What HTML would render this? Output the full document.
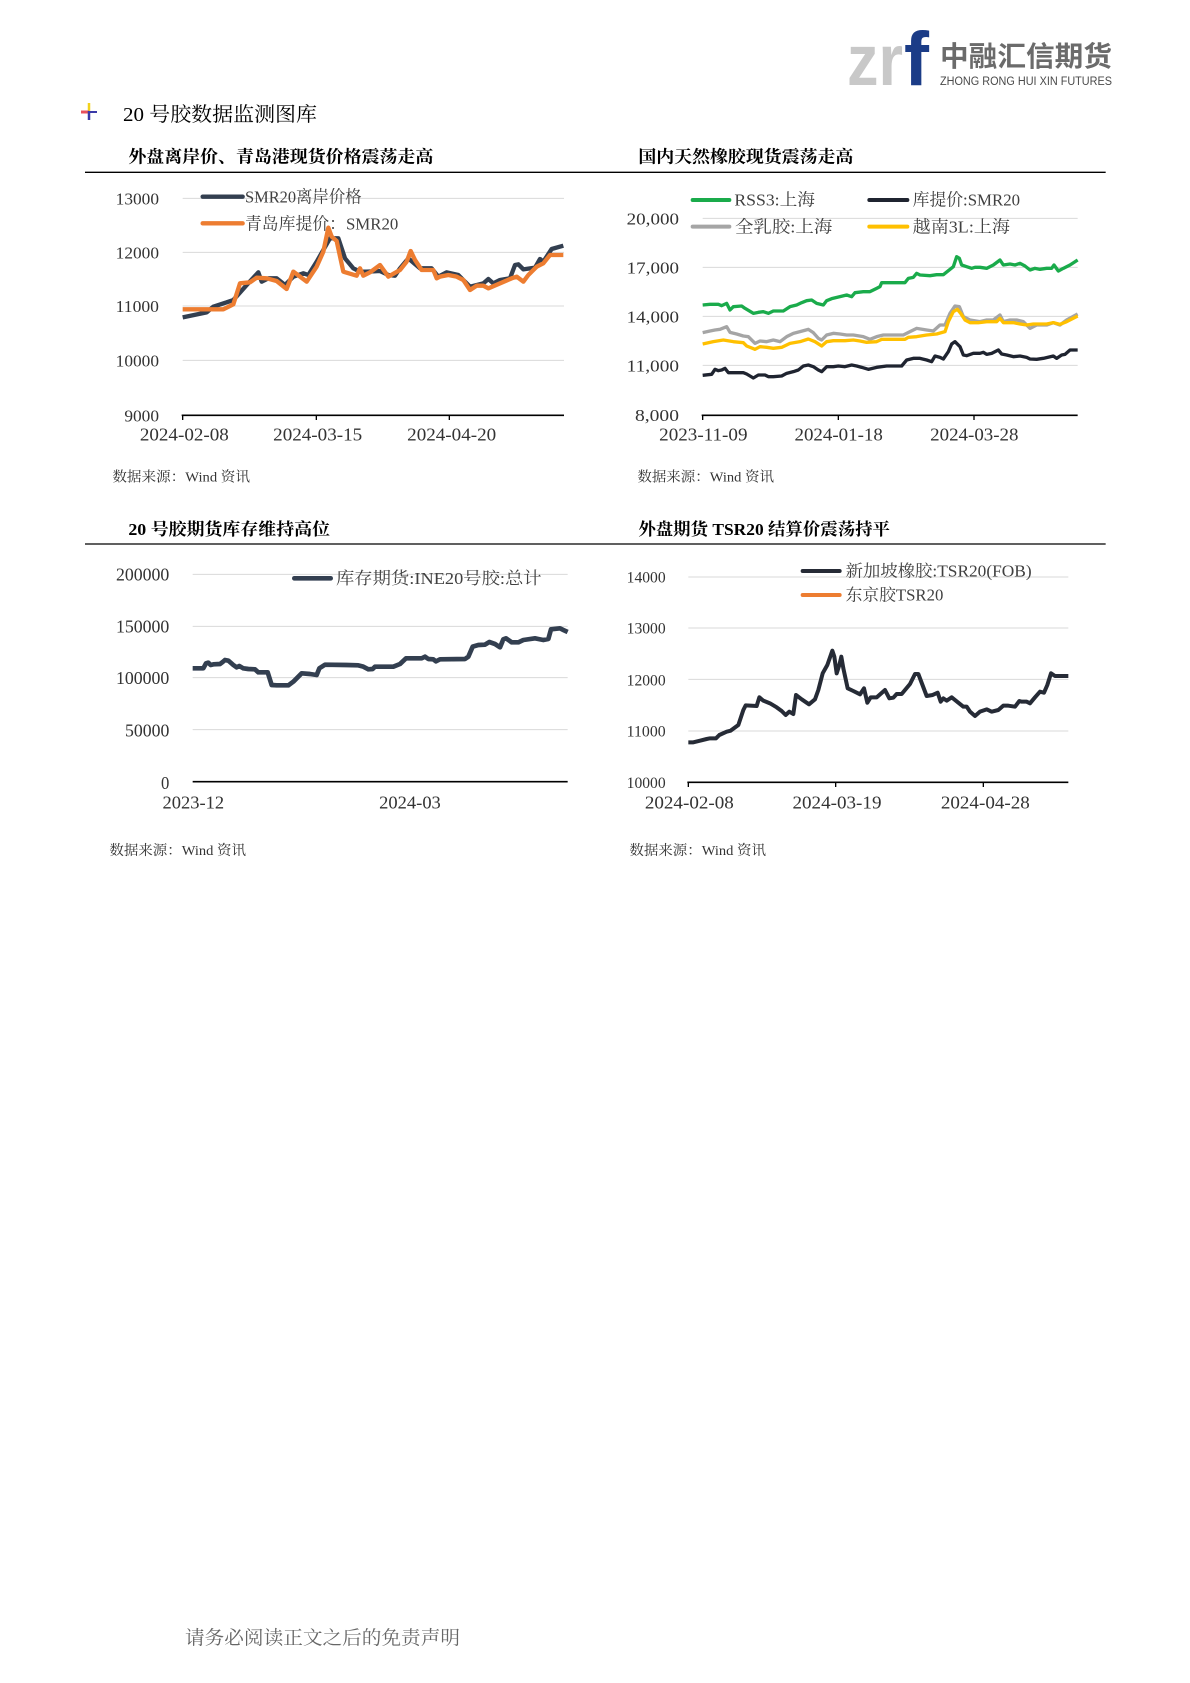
<!DOCTYPE html>
<html>
<head>
<meta charset="utf-8">
<style>
html,body{margin:0;padding:0;background:#fff;}
body{width:1190px;height:1683px;overflow:hidden;}
svg{display:block;}
.serif{font-family:"Liberation Serif","Noto Serif CJK SC",serif;}
.sans{font-family:"Liberation Sans","Noto Sans CJK SC",sans-serif;}
</style>
</head>
<body>
<svg width="1190" height="1683" viewBox="0 0 1190 1683" xmlns="http://www.w3.org/2000/svg">
<rect width="1190" height="1683" fill="#fff"/>

<!-- Logo -->
<g>
  <text x="847" y="85" class="sans" font-weight="bold" font-size="72" fill="#C8C8C8" textLength="56" lengthAdjust="spacingAndGlyphs">zr</text>
  <text x="904" y="85" class="sans" font-weight="bold" font-size="76" fill="#1B3C87" textLength="25" lengthAdjust="spacingAndGlyphs">f</text>
  <text x="940" y="66" class="sans" font-weight="bold" font-size="28" fill="#6B6B6B" textLength="172" lengthAdjust="spacingAndGlyphs">中融汇信期货</text>
  <text x="940" y="85" class="sans" font-size="11.5" fill="#4a4a4a" textLength="172" lengthAdjust="spacingAndGlyphs">ZHONG RONG HUI XIN FUTURES</text>
</g>

<!-- Section title -->
<g>
  <line x1="89" y1="103" x2="89" y2="111" stroke="#F2D21B" stroke-width="2.5"/>
  <line x1="81" y1="112" x2="89" y2="112" stroke="#E8505B" stroke-width="3"/>
  <line x1="89" y1="112" x2="97" y2="112" stroke="#3A3AA8" stroke-width="2"/>
  <line x1="89" y1="111" x2="89" y2="120" stroke="#3A3AA8" stroke-width="2.5"/>
  <text x="123" y="121" class="serif" font-size="20" fill="#000" textLength="194" lengthAdjust="spacingAndGlyphs">20 号胶数据监测图库</text>
</g>

<!-- Chart 1 -->
<g transform="translate(80,140) scale(0.333333)" class="serif">
  <text x="145" y="67" font-size="51" font-weight="bold" fill="#000" textLength="915" lengthAdjust="spacingAndGlyphs">外盘离岸价、青岛港现货价格震荡走高</text>
  <line x1="15" y1="97" x2="1560" y2="97" stroke="#000" stroke-width="4"/>
  <g stroke="#D9D9D9" stroke-width="3">
    <line x1="308" y1="175" x2="1452" y2="175"/>
    <line x1="308" y1="337" x2="1452" y2="337"/>
    <line x1="308" y1="498" x2="1452" y2="498"/>
    <line x1="308" y1="661" x2="1452" y2="661"/>
  </g>
  <line x1="305" y1="826" x2="1452" y2="826" stroke="#000" stroke-width="5"/>
  <g stroke="#000" stroke-width="4">
    <line x1="308" y1="826" x2="308" y2="840"/>
    <line x1="709" y1="826" x2="709" y2="840"/>
    <line x1="1108" y1="826" x2="1108" y2="840"/>
  </g>
  <g font-size="52" fill="#333" text-anchor="end">
    <text x="237" y="193" textLength="130" lengthAdjust="spacingAndGlyphs">13000</text>
    <text x="237" y="355" textLength="130" lengthAdjust="spacingAndGlyphs">12000</text>
    <text x="237" y="516" textLength="130" lengthAdjust="spacingAndGlyphs">11000</text>
    <text x="237" y="679" textLength="130" lengthAdjust="spacingAndGlyphs">10000</text>
    <text x="237" y="844" textLength="104" lengthAdjust="spacingAndGlyphs">9000</text>
  </g>
  <g font-size="53" fill="#333" text-anchor="middle">
    <text x="313" y="902" textLength="267" lengthAdjust="spacingAndGlyphs">2024-02-08</text>
    <text x="713" y="902" textLength="267" lengthAdjust="spacingAndGlyphs">2024-03-15</text>
    <text x="1115" y="902" textLength="267" lengthAdjust="spacingAndGlyphs">2024-04-20</text>
  </g>
  <line x1="368" y1="170" x2="488" y2="170" stroke="#333F50" stroke-width="13" stroke-linecap="round"/>
  <text x="495" y="187" font-size="51" fill="#404040" textLength="350" lengthAdjust="spacingAndGlyphs">SMR20离岸价格</text>
  <line x1="368" y1="250" x2="488" y2="250" stroke="#ED7D31" stroke-width="13" stroke-linecap="round"/>
  <text x="495" y="268" font-size="51" fill="#404040" textLength="460" lengthAdjust="spacingAndGlyphs">青岛库提价：SMR20</text>
  <polyline fill="none" stroke="#333F50" stroke-width="13" stroke-linejoin="round" points="308,532 380,517 400,500 440,487 460,480 500,435 535,397 545,425 565,415 590,415 615,435 640,410 670,400 685,405 710,365 750,295 775,295 795,355 820,385 840,395 860,395 900,393 925,405 945,407 960,385 985,355 1020,385 1055,385 1075,410 1100,397 1135,405 1150,420 1170,440 1210,430 1225,417 1240,430 1260,420 1290,415 1305,375 1315,373 1330,388 1365,383 1380,357 1390,365 1415,327 1450,317"/>
  <polyline fill="none" stroke="#ED7D31" stroke-width="13" stroke-linejoin="round" points="308,508 430,508 460,493 480,430 510,427 530,413 560,415 590,423 620,447 640,395 660,410 680,425 710,380 730,335 745,263 755,290 770,303 790,395 830,407 840,385 850,407 870,397 900,375 925,410 960,390 980,365 992,333 1005,360 1025,390 1060,390 1070,415 1080,410 1105,405 1130,410 1150,420 1170,450 1190,437 1210,437 1225,445 1260,430 1295,415 1310,410 1330,425 1345,405 1370,380 1390,370 1410,345 1450,345"/>
  <text x="97" y="1025" font-size="42" fill="#333" textLength="413" lengthAdjust="spacingAndGlyphs">数据来源：Wind 资讯</text>
</g>

<!-- Chart 2 -->
<g transform="translate(600,140) scale(0.333333)" class="serif">
  <text x="115" y="67" font-size="51" font-weight="bold" fill="#000" textLength="645" lengthAdjust="spacingAndGlyphs">国内天然橡胶现货震荡走高</text>
  <line x1="0" y1="97" x2="1517" y2="97" stroke="#000" stroke-width="4"/>
  <g stroke="#D9D9D9" stroke-width="3">
    <line x1="308" y1="235" x2="1433" y2="235"/>
    <line x1="308" y1="382" x2="1433" y2="382"/>
    <line x1="308" y1="529" x2="1433" y2="529"/>
    <line x1="308" y1="676" x2="1433" y2="676"/>
  </g>
  <line x1="305" y1="826" x2="1433" y2="826" stroke="#000" stroke-width="5"/>
  <g stroke="#000" stroke-width="4">
    <line x1="308" y1="826" x2="308" y2="840"/>
    <line x1="715" y1="826" x2="715" y2="840"/>
    <line x1="1122" y1="826" x2="1122" y2="840"/>
  </g>
  <g font-size="52" fill="#333" text-anchor="end">
    <text x="237" y="254" textLength="157" lengthAdjust="spacingAndGlyphs">20,000</text>
    <text x="237" y="400" textLength="157" lengthAdjust="spacingAndGlyphs">17,000</text>
    <text x="237" y="547" textLength="157" lengthAdjust="spacingAndGlyphs">14,000</text>
    <text x="237" y="695" textLength="157" lengthAdjust="spacingAndGlyphs">11,000</text>
    <text x="237" y="843" textLength="132" lengthAdjust="spacingAndGlyphs">8,000</text>
  </g>
  <g font-size="53" fill="#333" text-anchor="middle">
    <text x="310" y="902" textLength="265" lengthAdjust="spacingAndGlyphs">2023-11-09</text>
    <text x="716" y="902" textLength="265" lengthAdjust="spacingAndGlyphs">2024-01-18</text>
    <text x="1123" y="902" textLength="265" lengthAdjust="spacingAndGlyphs">2024-03-28</text>
  </g>
  <g stroke-width="12" stroke-linecap="round">
    <line x1="278" y1="180" x2="388" y2="180" stroke="#1AAB4B"/>
    <line x1="808" y1="180" x2="922" y2="180" stroke="#1F2430"/>
    <line x1="278" y1="260" x2="388" y2="260" stroke="#A5A5A5"/>
    <line x1="808" y1="260" x2="922" y2="260" stroke="#FFC000"/>
  </g>
  <g font-size="52" fill="#404040">
    <text x="403" y="197" textLength="242" lengthAdjust="spacingAndGlyphs">RSS3:上海</text>
    <text x="938" y="197" textLength="322" lengthAdjust="spacingAndGlyphs">库提价:SMR20</text>
    <text x="405" y="277" textLength="292" lengthAdjust="spacingAndGlyphs">全乳胶:上海</text>
    <text x="938" y="277" textLength="292" lengthAdjust="spacingAndGlyphs">越南3L:上海</text>
  </g>
  <g fill="none" stroke-width="10" stroke-linejoin="round">
    <polyline stroke="#A5A5A5" points="308,578 330,573 345,570 360,568 380,560 390,577 410,582 430,588 445,590 465,610 480,603 500,605 520,600 540,605 560,590 580,580 600,575 625,568 640,578 655,595 665,600 680,585 700,580 720,582 740,585 760,585 790,590 810,598 830,590 850,585 880,585 910,585 930,575 950,565 980,570 1000,573 1020,555 1035,555 1050,520 1065,498 1078,500 1090,530 1110,540 1140,545 1160,540 1180,540 1200,525 1210,545 1230,540 1250,540 1270,545 1290,565 1310,555 1340,555 1360,548 1380,555 1400,540 1433,522"/>
    <polyline stroke="#FFC000" points="308,612 340,605 370,600 400,605 430,608 440,618 465,628 480,620 500,622 520,625 545,622 570,610 600,605 625,597 645,605 665,618 680,605 700,602 735,602 760,600 780,603 800,607 830,605 845,598 870,598 915,598 925,592 950,590 980,585 1010,582 1035,575 1045,545 1060,515 1072,508 1082,520 1095,540 1110,548 1135,548 1160,545 1190,545 1200,535 1210,548 1240,548 1260,552 1280,555 1300,552 1340,552 1360,548 1380,553 1400,545 1433,528"/>
    <polyline stroke="#1F2430" points="308,706 335,703 345,688 355,692 365,690 375,685 385,698 410,698 430,698 440,702 460,714 475,705 495,705 505,710 520,710 545,708 560,700 580,695 595,690 610,678 625,675 640,680 655,690 665,695 680,680 700,680 715,678 735,680 755,675 770,678 785,682 805,688 830,682 860,678 905,678 920,660 940,655 960,655 980,660 995,665 1005,648 1020,652 1030,657 1045,635 1055,612 1065,605 1080,620 1090,645 1100,647 1120,640 1140,640 1150,637 1160,643 1175,640 1195,630 1205,642 1220,645 1240,650 1260,648 1280,652 1290,657 1310,658 1330,655 1360,648 1370,655 1385,645 1395,643 1410,630 1433,630"/>
    <polyline stroke="#1AAB4B" points="308,495 330,493 355,493 365,497 380,490 390,510 400,500 425,498 435,505 460,520 475,517 490,515 505,520 520,513 550,513 570,500 590,495 605,488 620,482 635,480 650,490 670,495 680,482 695,476 720,470 740,465 755,470 765,458 790,455 810,455 830,445 840,440 845,428 870,428 915,428 925,415 940,412 950,400 960,405 990,407 1010,404 1030,404 1045,392 1060,380 1070,350 1078,355 1085,375 1100,380 1115,385 1125,382 1140,382 1160,385 1180,375 1200,360 1210,375 1230,372 1245,375 1260,370 1275,378 1290,390 1305,385 1320,388 1340,385 1355,385 1362,375 1375,393 1390,385 1410,375 1433,360"/>
  </g>
  <text x="112" y="1025" font-size="42" fill="#333" textLength="410" lengthAdjust="spacingAndGlyphs">数据来源：Wind 资讯</text>
</g>

<!-- Chart 3 -->
<g transform="translate(80,510) scale(0.333333)" class="serif">
  <text x="145" y="75" font-size="51" font-weight="bold" fill="#000" textLength="605" lengthAdjust="spacingAndGlyphs">20 号胶期货库存维持高位</text>
  <line x1="15" y1="102" x2="1560" y2="102" stroke="#000" stroke-width="4"/>
  <g stroke="#D9D9D9" stroke-width="3">
    <line x1="338" y1="193" x2="1463" y2="193"/>
    <line x1="338" y1="349" x2="1463" y2="349"/>
    <line x1="338" y1="503" x2="1463" y2="503"/>
    <line x1="338" y1="659" x2="1463" y2="659"/>
  </g>
  <line x1="338" y1="815" x2="1463" y2="815" stroke="#000" stroke-width="5"/>
  <g font-size="53" fill="#333" text-anchor="end">
    <text x="268" y="212" textLength="160" lengthAdjust="spacingAndGlyphs">200000</text>
    <text x="268" y="367" textLength="160" lengthAdjust="spacingAndGlyphs">150000</text>
    <text x="268" y="522" textLength="160" lengthAdjust="spacingAndGlyphs">100000</text>
    <text x="268" y="679" textLength="133" lengthAdjust="spacingAndGlyphs">50000</text>
    <text x="268" y="837" textLength="25" lengthAdjust="spacingAndGlyphs">0</text>
  </g>
  <g font-size="53" fill="#333" text-anchor="middle">
    <text x="340" y="895" textLength="185" lengthAdjust="spacingAndGlyphs">2023-12</text>
    <text x="990" y="895" textLength="185" lengthAdjust="spacingAndGlyphs">2024-03</text>
  </g>
  <line x1="643" y1="205" x2="752" y2="205" stroke="#333F50" stroke-width="14" stroke-linecap="round"/>
  <text x="768" y="222" font-size="51" fill="#404040" textLength="617" lengthAdjust="spacingAndGlyphs">库存期货:INE20号胶:总计</text>
  <polyline fill="none" stroke="#333F50" stroke-width="14" stroke-linejoin="round" points="338,475 370,475 378,460 385,458 392,465 400,463 420,462 428,456 435,450 445,452 460,465 470,472 478,468 490,475 505,477 525,478 535,487 563,487 575,525 590,526 625,526 640,515 665,490 690,492 710,495 718,475 735,464 800,465 835,466 850,470 865,478 878,477 885,470 940,470 960,462 978,445 1025,445 1035,440 1045,447 1060,448 1068,454 1080,448 1155,447 1165,440 1178,410 1195,405 1215,404 1228,396 1245,402 1260,412 1270,388 1278,385 1295,397 1315,397 1330,390 1365,385 1375,387 1390,390 1405,387 1413,358 1440,355 1450,360 1463,366"/>
  <text x="88" y="1035" font-size="42" fill="#333" textLength="410" lengthAdjust="spacingAndGlyphs">数据来源：Wind 资讯</text>
</g>

<!-- Chart 4 -->
<g transform="translate(600,510) scale(0.333333)" class="serif">
  <text x="115" y="75" font-size="51" font-weight="bold" fill="#000" textLength="755" lengthAdjust="spacingAndGlyphs">外盘期货 TSR20 结算价震荡持平</text>
  <line x1="0" y1="102" x2="1517" y2="102" stroke="#000" stroke-width="4"/>
  <g stroke="#D9D9D9" stroke-width="3">
    <line x1="265" y1="201" x2="1405" y2="201"/>
    <line x1="265" y1="354" x2="1405" y2="354"/>
    <line x1="265" y1="508" x2="1405" y2="508"/>
    <line x1="265" y1="663" x2="1405" y2="663"/>
  </g>
  <line x1="262" y1="817" x2="1405" y2="817" stroke="#000" stroke-width="5"/>
  <g stroke="#000" stroke-width="4">
    <line x1="265" y1="817" x2="265" y2="831"/>
    <line x1="707" y1="817" x2="707" y2="831"/>
    <line x1="1150" y1="817" x2="1150" y2="831"/>
  </g>
  <g font-size="47" fill="#333" text-anchor="end">
    <text x="197" y="218" textLength="117" lengthAdjust="spacingAndGlyphs">14000</text>
    <text x="197" y="371" textLength="117" lengthAdjust="spacingAndGlyphs">13000</text>
    <text x="197" y="526" textLength="117" lengthAdjust="spacingAndGlyphs">12000</text>
    <text x="197" y="680" textLength="117" lengthAdjust="spacingAndGlyphs">11000</text>
    <text x="197" y="834" textLength="117" lengthAdjust="spacingAndGlyphs">10000</text>
  </g>
  <g font-size="53" fill="#333" text-anchor="middle">
    <text x="268" y="895" textLength="267" lengthAdjust="spacingAndGlyphs">2024-02-08</text>
    <text x="711" y="895" textLength="267" lengthAdjust="spacingAndGlyphs">2024-03-19</text>
    <text x="1156" y="895" textLength="267" lengthAdjust="spacingAndGlyphs">2024-04-28</text>
  </g>
  <line x1="608" y1="183" x2="719" y2="183" stroke="#262B36" stroke-width="12" stroke-linecap="round"/>
  <text x="737" y="200" font-size="49" fill="#404040" textLength="558" lengthAdjust="spacingAndGlyphs">新加坡橡胶:TSR20(FOB)</text>
  <line x1="608" y1="255" x2="719" y2="255" stroke="#ED7D31" stroke-width="12" stroke-linecap="round"/>
  <text x="737" y="272" font-size="49" fill="#404040" textLength="293" lengthAdjust="spacingAndGlyphs">东京胶TSR20</text>
  <polyline fill="none" stroke="#262B36" stroke-width="12" stroke-linejoin="round" points="265,697 280,697 300,692 320,687 330,685 348,685 358,675 380,665 392,662 415,645 430,600 437,586 470,588 478,562 490,572 510,580 530,592 545,603 557,615 568,605 580,612 588,555 605,568 627,583 645,568 655,540 668,490 682,465 697,422 703,440 710,490 718,465 724,440 730,475 743,535 760,543 780,553 792,535 802,578 812,562 830,562 855,540 868,565 880,563 890,552 905,552 930,522 945,492 955,492 980,558 998,555 1013,548 1022,575 1030,565 1040,572 1055,562 1075,578 1090,590 1100,590 1110,605 1125,618 1140,605 1160,598 1175,605 1195,600 1210,587 1225,587 1245,590 1258,573 1265,575 1280,575 1290,580 1305,562 1320,545 1332,548 1342,525 1353,490 1365,498 1405,498"/>
  <text x="88" y="1035" font-size="42" fill="#333" textLength="410" lengthAdjust="spacingAndGlyphs">数据来源：Wind 资讯</text>
</g>

<!-- Footer -->
<text x="185" y="1644" font-family="'Liberation Serif','Noto Serif CJK SC',serif" font-size="19" fill="#666" textLength="275" lengthAdjust="spacingAndGlyphs">请务必阅读正文之后的免责声明</text>
</svg>
</body>
</html>
